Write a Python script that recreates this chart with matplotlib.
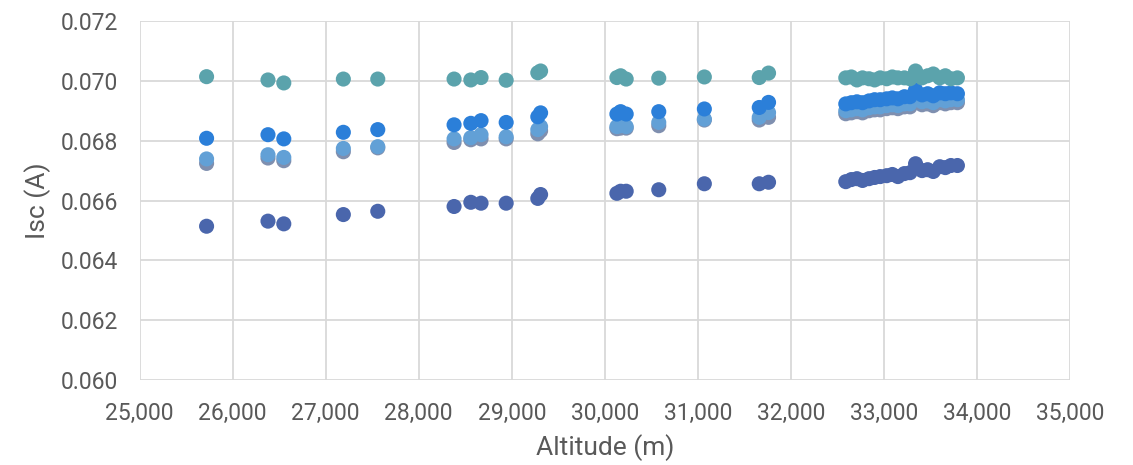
import numpy as np
import matplotlib.pyplot as plt
from matplotlib.ticker import FuncFormatter, MultipleLocator

plt.rcParams['font.family'] = ['Roboto', 'DejaVu Sans']

# altitude of each reading (m)
altitude = [25720, 26380, 26550, 27190, 27560, 28380, 28560, 28670, 28940,
            29280, 29310, 30130, 30170, 30230, 30580, 31070, 31660, 31760,
            32590, 32650, 32710, 32770, 32840, 32900, 32960, 33030, 33090, 33150,
            33220, 33280, 33340, 33410, 33470, 33530, 33600, 33660, 33720, 33790]

isc_teal = [0.07014, 0.07003, 0.06993, 0.07006, 0.07006, 0.07006, 0.07003, 0.07011, 0.07002,
            0.07027, 0.07033, 0.07011, 0.07017, 0.07006, 0.07009, 0.07013, 0.07011, 0.07026,
            0.07010, 0.07013, 0.07003, 0.07010, 0.07007, 0.07003, 0.07010, 0.07007, 0.07013, 0.07010,
            0.07010, 0.07007, 0.07033, 0.07010, 0.07017, 0.07023, 0.07010, 0.07017, 0.07007, 0.07010]

isc_bright = [0.06808, 0.06820, 0.06806, 0.06828, 0.06837, 0.06853, 0.06858, 0.06867, 0.06861,
              0.06880, 0.06893, 0.06889, 0.06897, 0.06889, 0.06897, 0.06906, 0.06911, 0.06928,
              0.06923, 0.06927, 0.06930, 0.06927, 0.06933, 0.06937, 0.06937, 0.06940, 0.06943, 0.06940,
              0.06947, 0.06947, 0.06970, 0.06953, 0.06957, 0.06950, 0.06960, 0.06957, 0.06960, 0.06957]

isc_light = [0.06739, 0.06753, 0.06744, 0.06774, 0.06780, 0.06806, 0.06810, 0.06820, 0.06813,
             0.06837, 0.06847, 0.06847, 0.06850, 0.06847, 0.06861, 0.06872, 0.06878, 0.06894,
             0.06900, 0.06903, 0.06907, 0.06903, 0.06910, 0.06913, 0.06913, 0.06917, 0.06920, 0.06917,
             0.06923, 0.06923, 0.06943, 0.06930, 0.06933, 0.06927, 0.06937, 0.06933, 0.06937, 0.06937]

isc_gray = [0.06724, 0.06742, 0.06733, 0.06763, 0.06776, 0.06794, 0.06803, 0.06806, 0.06806,
            0.06823, 0.06833, 0.06840, 0.06842, 0.06842, 0.06850, 0.06869, 0.06869, 0.06878,
            0.06890, 0.06893, 0.06897, 0.06893, 0.06900, 0.06903, 0.06903, 0.06907, 0.06910, 0.06907,
            0.06913, 0.06913, 0.06933, 0.06920, 0.06923, 0.06917, 0.06927, 0.06923, 0.06927, 0.06927]

isc_dark = [0.06514, 0.06531, 0.06522, 0.06553, 0.06564, 0.06580, 0.06594, 0.06591, 0.06591,
            0.06607, 0.06620, 0.06624, 0.06631, 0.06631, 0.06636, 0.06656, 0.06656, 0.06661,
            0.06663, 0.06670, 0.06673, 0.06667, 0.06673, 0.06677, 0.06680, 0.06683, 0.06687, 0.06680,
            0.06690, 0.06693, 0.06723, 0.06700, 0.06703, 0.06697, 0.06713, 0.06710, 0.06717, 0.06717]

series = [(isc_gray, '#7F8FAF'), (isc_light, '#62A0D6'), (isc_bright, '#2B7FD9'),
          (isc_teal, '#5BA3AC'), (isc_dark, '#4A66AC')]

fig = plt.figure(figsize=(11.33, 4.65), dpi=100)
ax = fig.add_axes([0.1232, 0.1828, 0.8212, 0.7720])

for vals, col in series:
    ax.scatter(altitude, vals, s=118, color=col, edgecolors='none', zorder=3)

ax.set_xlim(25000, 35000)
ax.set_ylim(0.060, 0.072)
ax.xaxis.set_major_locator(MultipleLocator(1000))
ax.yaxis.set_major_locator(MultipleLocator(0.002))
ax.xaxis.set_major_formatter(FuncFormatter(lambda v, p: f'{v:,.0f}'))
ax.yaxis.set_major_formatter(FuncFormatter(lambda v, p: f'{v:.3f}'))

ax.grid(True, color='#D9D9D9', linewidth=1.3, zorder=0)
for s in ax.spines.values():
    s.set_visible(False)
ax.tick_params(length=0, labelsize=16.5, labelcolor='#595959', pad=15.5)

ax.set_xlabel('Altitude (m)', fontsize=19, color='#595959', labelpad=7)
ax.set_ylabel('Isc (A)', fontsize=19, color='#595959', labelpad=7)

fig.savefig('out.png', dpi=100)
